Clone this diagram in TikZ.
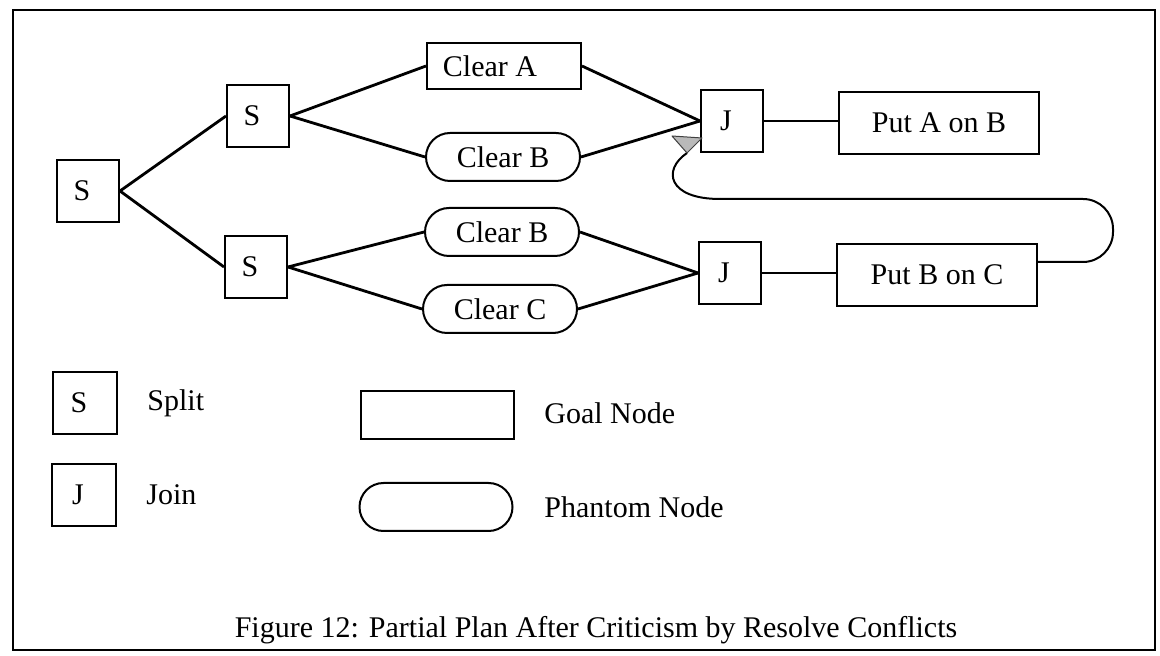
\documentclass[tikz,border=0pt]{standalone}
\usepackage{fontspec}
\setmainfont{Liberation Serif}
\begin{document}
\begin{tikzpicture}[x=0.5pt,y=-0.5pt,
  every node/.style={font=\fontsize{15}{18}\selectfont},
  tshift/.style={execute at begin node={\hspace*{-#1}},execute at end node={\hspace*{#1}}},
  sq/.style={draw,line width=1pt,minimum width=31pt,minimum height=31pt,inner sep=0pt,tshift=3pt},
  goal/.style={draw,line width=1pt,minimum width=77pt,minimum height=23pt,inner sep=0pt},
  phantom/.style={draw,line width=1pt,rounded corners=12pt,minimum width=77pt,minimum height=24pt,inner sep=0pt},
  bigbox/.style={draw,line width=1pt,minimum width=100pt,minimum height=31pt,inner sep=0pt},
  lbl/.style={anchor=west,inner sep=0pt},
  conn/.style={line width=1.4pt},
  thinconn/.style={line width=0.9pt},
  loopline/.style={line width=1pt},
  arrowhd/.style={fill=gray!55,draw=black!75,line width=0.5pt,line join=round}]
\useasboundingbox (0,0) rectangle (1160,656);
\draw[line width=1pt] (13,10) rectangle (1155,650);

% splits
\node[sq] (S1) at (88,191) {S};
\node[sq] (S2) at (258,116) {S};
\node[sq] (S3) at (256,267) {S};
% goals / phantoms
\node[goal,tshift=7pt] (CA) at (504,66) {Clear A};
\node[phantom] (CB1) at (503,157) {Clear B};
\node[phantom] (CB2) at (502,232) {Clear B};
\node[phantom] (CC) at (500,309) {Clear C};
% joins
\node[sq] (J1) at (732,121) {J};
\node[sq] (J2) at (730,273) {J};
\node[bigbox] (PAB) at (939,123) {Put A on B};
\node[bigbox] (PBC) at (937,275) {Put B on C};

% connectors
\draw[conn] (S1.east) -- (S2.west);
\draw[conn] (S1.east) -- (S3.west);
\draw[conn] (S2.east) -- (CA.west);
\draw[conn] (S2.east) -- (CB1.west);
\draw[conn] (S3.east) -- (CB2.west);
\draw[conn] (S3.east) -- (CC.west);
\draw[conn] (CA.east) -- (J1.west);
\draw[conn] (CB1.east) -- (J1.west);
\draw[conn] (CB2.east) -- (J2.west);
\draw[conn] (CC.east) -- (J2.west);
\draw[thinconn] (J1.east) -- (J1.east -| PAB.west);
\draw[thinconn] (J2.east) -- (J2.east -| PBC.west);

% loop back with arrowhead
\coordinate (tipend) at (687,153);
\draw[loopline,rounded corners=15pt] ([yshift=6.5pt]PBC.east) -- (1113,262) -- (1113,199) -- (720,199);
\draw[loopline] (720,199) .. controls (668,199) and (662,170) .. (tipend);
\filldraw[arrowhd] (672,136) -- (702,138) -- (tipend) -- cycle;

% legend
\node[sq,minimum width=32pt] (LS) at (85,403) {S};
\node[lbl] (LSt) at (147,403) {Split};
\node[sq,minimum width=32pt] (LJ) at (84,495) {J};
\node[lbl] (LJt) at (146,495) {Join};
\node[goal,minimum width=76.5pt,minimum height=24pt] (LG) at (437,415) {};
\node[lbl] (LGt) at (544,413) {Goal Node};
\node[phantom,minimum width=76.5pt] (LP) at (436,507) {};
\node[lbl] (LPt) at (544,507) {Phantom Node};

% caption
\node (cap) at (596,630) {Figure 12: Partial Plan After Criticism by Resolve Conflicts};
\end{tikzpicture}
\end{document}
